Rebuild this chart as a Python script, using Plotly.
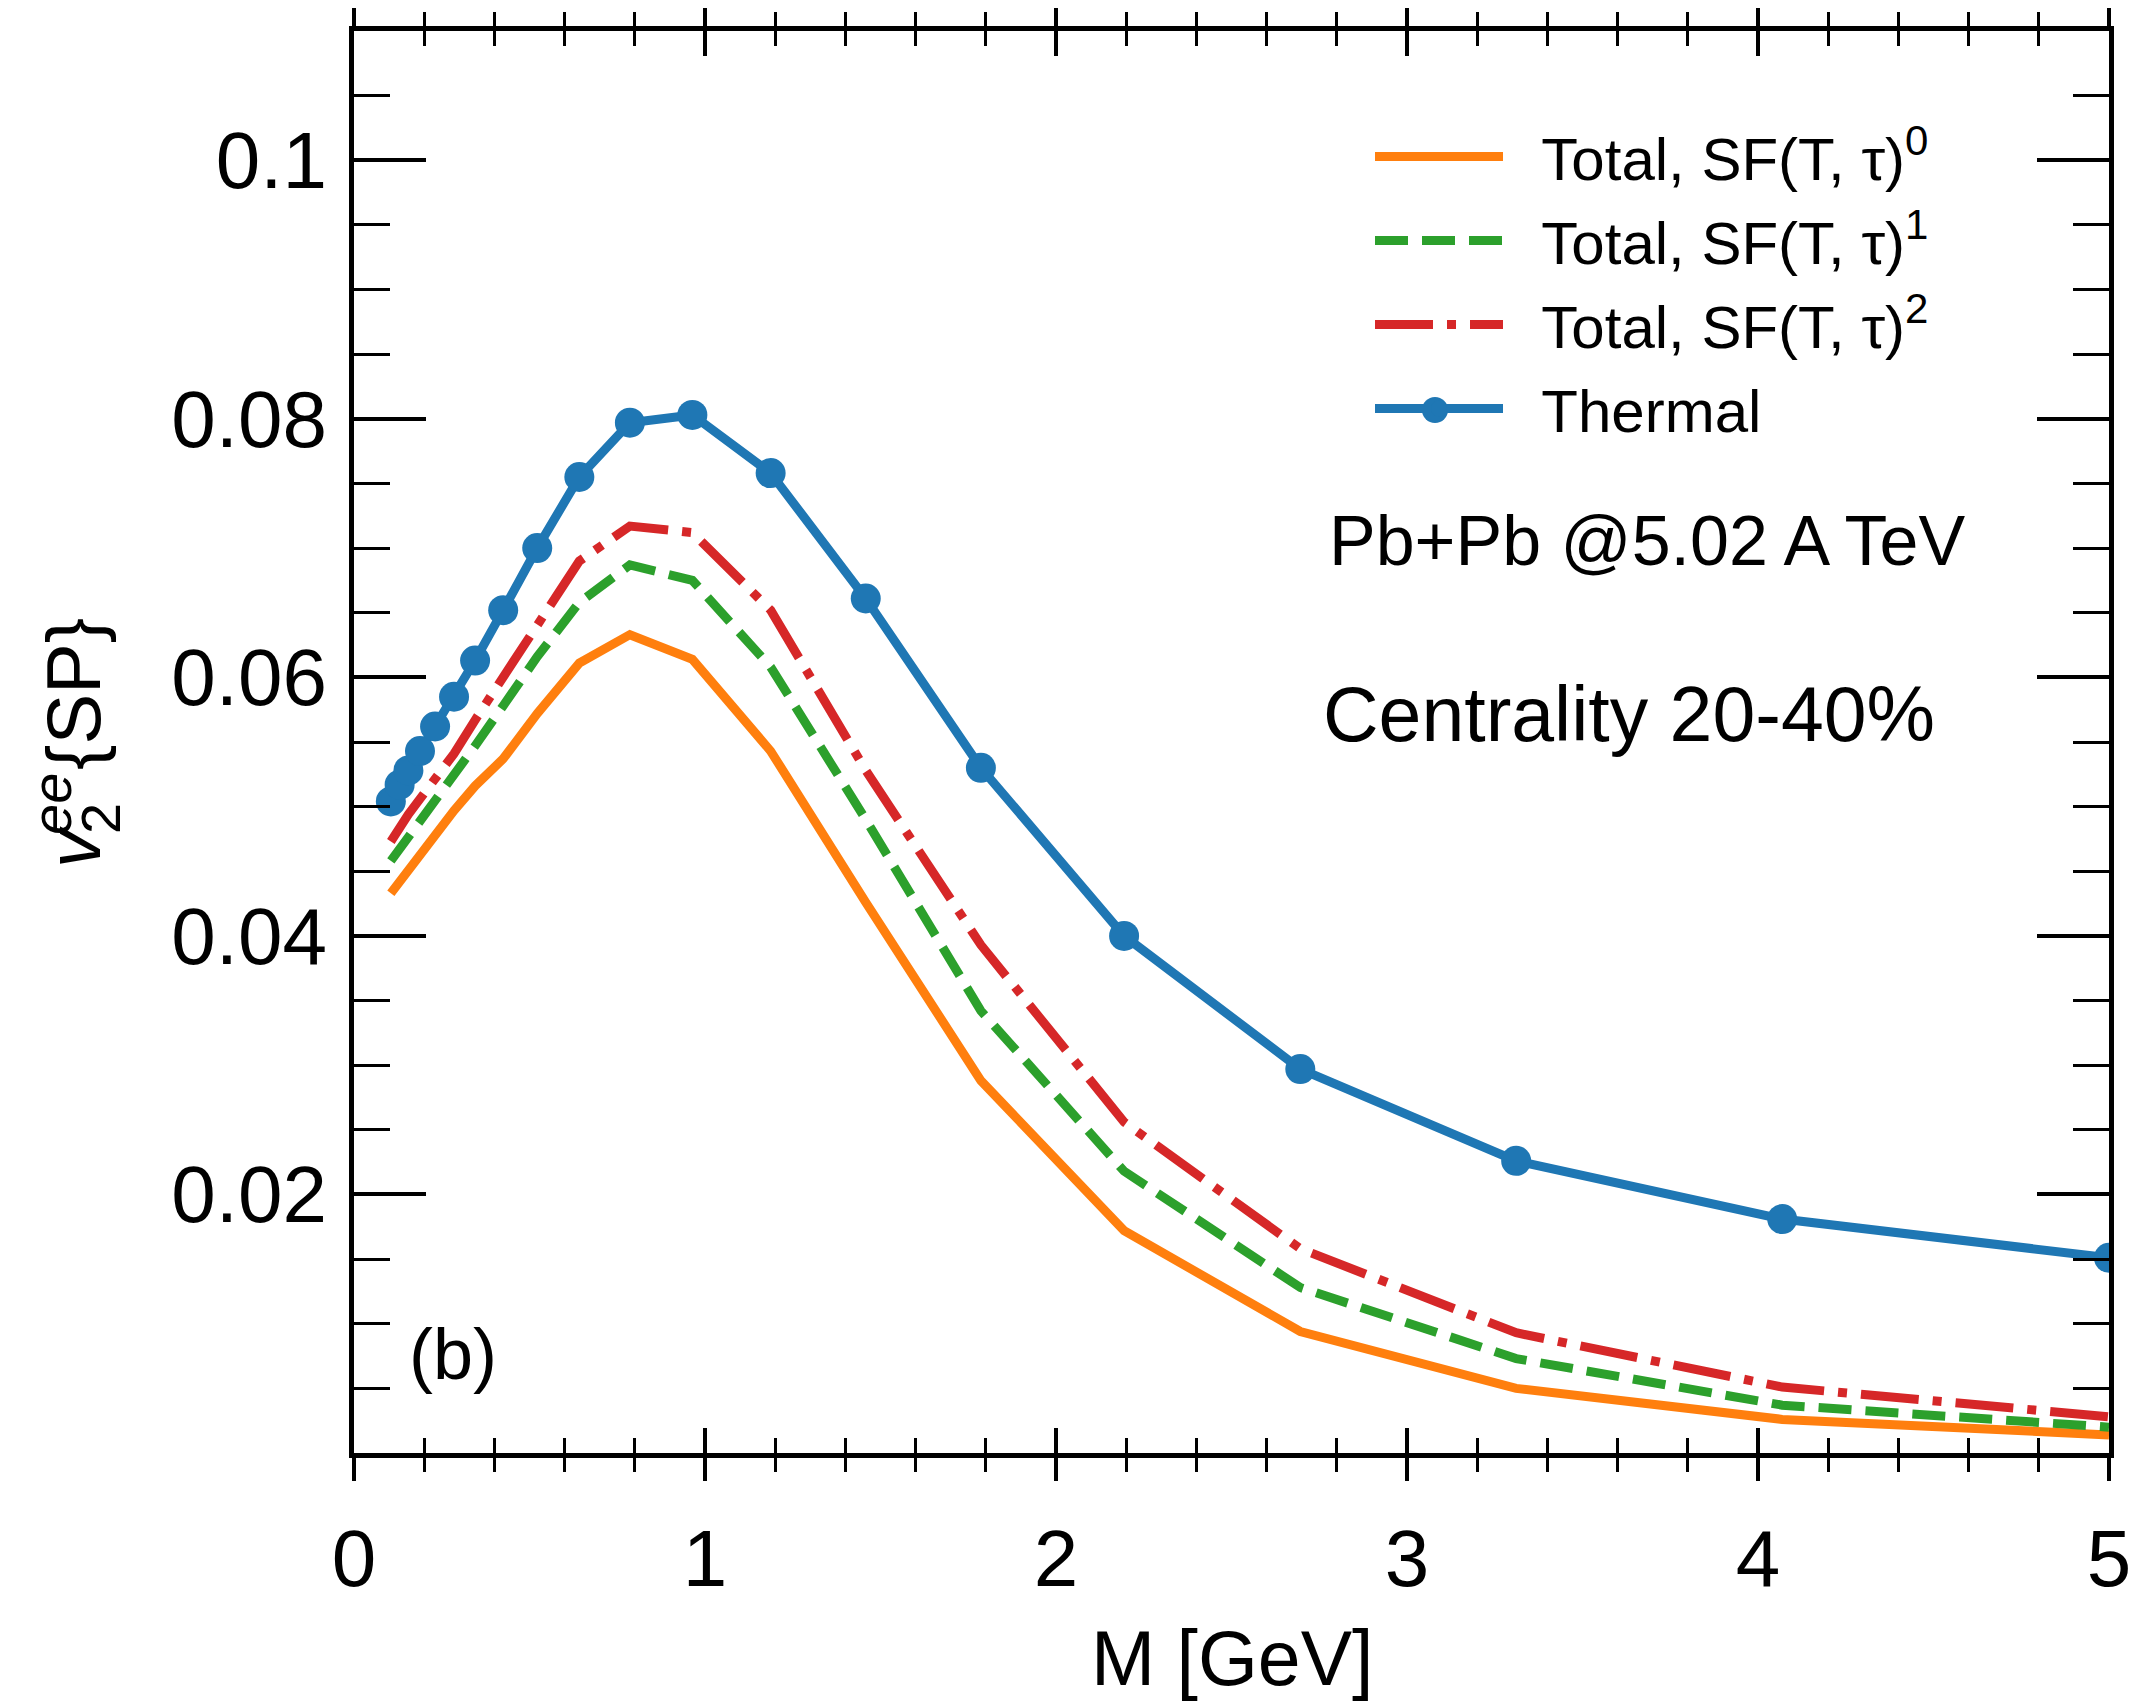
import plotly.graph_objects as go

# ---------------- data ----------------
M = [0.105, 0.130, 0.155, 0.188, 0.231, 0.285, 0.345, 0.425, 0.522, 0.642,
     0.786, 0.964, 1.187, 1.458, 1.786, 2.194, 2.696, 3.311, 4.069, 5.0]

total_sf0 = [0.0433, 0.0442, 0.0450, 0.0461, 0.0476, 0.0497, 0.0516, 0.0537, 0.0572, 0.0611,
             0.0633, 0.0614, 0.0543, 0.0426, 0.0288, 0.0172, 0.0094, 0.0050, 0.0026, 0.0014]
total_sf1 = [0.0458, 0.0467, 0.0476, 0.0488, 0.0504, 0.0525, 0.0547, 0.0578, 0.0616, 0.0658,
             0.0687, 0.0675, 0.0608, 0.0490, 0.0342, 0.0218, 0.0128, 0.0073, 0.0037, 0.0020]
total_sf2 = [0.0473, 0.0484, 0.0494, 0.0506, 0.0521, 0.0541, 0.0567, 0.0600, 0.0640, 0.0690,
             0.0717, 0.0712, 0.0652, 0.0528, 0.0393, 0.0256, 0.0158, 0.0093, 0.0051, 0.0028]
thermal = [0.0504, 0.0517, 0.0528, 0.0543, 0.0562, 0.0585, 0.0613, 0.0652, 0.0700, 0.0755,
           0.0797, 0.0803, 0.0758, 0.0661, 0.0530, 0.0400, 0.0297, 0.0226, 0.0181, 0.0151]

series_names = ["Total, SF(T, τ)<sup>0</sup>", "Total, SF(T, τ)<sup>1</sup>",
                "Total, SF(T, τ)<sup>2</sup>", "Thermal"]
x_ticks = [0, 1, 2, 3, 4, 5]
y_ticks = [0.02, 0.04, 0.06, 0.08, 0.1]
y_ticktext = ["0.02", "0.04", "0.06", "0.08", "0.1"]

# ---------------- figure geometry (screen px of the 2137x1701 page) ----------------
W, H = 2137, 1701
BODY = 8                      # default page margin around the plotly div
L, R, T, B = 354, 28, 31, 248  # plot area edges measured on screen
PW, PH = W - L - R, H - T - B
FONT = "Liberation Sans, Arial, Helvetica, sans-serif"


def px(xp):
    return (xp - L) / PW


def py(yp):
    return (H - B - yp) / PH


LW = 9
SP = "\u00a0\u00a0"
fig = go.Figure()
fig.add_trace(go.Scatter(x=M, y=total_sf0, mode="lines", name=SP + series_names[0],
                         line=dict(color="#ff7f0e", width=LW), legendgroup="a"))
fig.add_trace(go.Scatter(x=M, y=total_sf1, mode="lines", name=SP + series_names[1],
                         line=dict(color="#2ca02c", width=LW, dash="33px,14px"), legendgroup="b"))
fig.add_trace(go.Scatter(x=M, y=total_sf2, mode="lines", name=SP + series_names[2],
                         line=dict(color="#d62728", width=LW, dash="58px,14px,9px,14px"),
                         legendgroup="c"))
fig.add_trace(go.Scatter(x=M, y=thermal, mode="lines+markers", name=SP + series_names[3],
                         line=dict(color="#1f77b4", width=LW),
                         marker=dict(color="#1f77b4", size=30), legendgroup="d"))
# helper trace so the overlay axis (outer half of x ticks) is drawn
fig.add_trace(go.Scatter(x=M[:1], y=thermal[:1], xaxis="x2", mode="markers",
                         marker=dict(opacity=0, size=1), showlegend=False, hoverinfo="skip"))

axis_common = dict(showline=True, linecolor="black", linewidth=5, showgrid=False,
                   zeroline=False, mirror="ticks", tickcolor="black", automargin=False)

fig.update_layout(
    width=W - BODY, height=H - BODY,
    margin=dict(l=L - BODY, r=R, t=T - BODY, b=B, pad=0, autoexpand=False),
    paper_bgcolor="white", plot_bgcolor="white",
    font=dict(family=FONT, color="black"),
    showlegend=True,
    legend=dict(x=px(1370), y=py(111), xanchor="left", yanchor="top",
                font=dict(size=60, family=FONT), bgcolor="rgba(0,0,0,0)",
                itemwidth=128, tracegroupgap=3),
    xaxis=dict(range=[0, 5], tickvals=x_ticks, ticks="inside", ticklen=25, tickwidth=4,
               tickfont=dict(size=80), ticklabelstandoff=32,
               minor=dict(dtick=0.2, tick0=0, ticks="inside", ticklen=15, tickwidth=3,
                          tickcolor="black"),
               **axis_common),
    xaxis2=dict(range=[0, 5], overlaying="x", anchor="y", side="bottom",
                tickvals=x_ticks, ticks="outside", ticklen=23, tickwidth=4,
                showticklabels=False,
                minor=dict(dtick=0.2, tick0=0, ticks="outside", ticklen=14, tickwidth=3,
                           tickcolor="black"),
                **axis_common),
    yaxis=dict(range=[0, 0.11], tickvals=y_ticks, ticktext=y_ticktext, ticks="inside",
               ticklen=72, tickwidth=3.5, tickfont=dict(size=80), ticklabelstandoff=6,
               minor=dict(dtick=0.005, tick0=0, ticks="inside", ticklen=36, tickwidth=3,
                          tickcolor="black"),
               **axis_common),
)

# larger marker glyph for the "Thermal" legend sample (plotly caps legend marker size)
MR = 13
fig.add_shape(type="circle", xref="paper", yref="paper",
              x0=px(1435 - MR), x1=px(1435 + MR), y0=py(410 + MR), y1=py(410 - MR),
              fillcolor="#1f77b4", line=dict(width=0), layer="above")

ann = []
# x-axis title
ann.append(dict(text="M [GeV]", x=px(1232), y=py(1658), xref="paper", yref="paper",
                showarrow=False, xanchor="center", yanchor="middle",
                font=dict(size=77, family=FONT)))
# y-axis title pieces (stacked sub/superscript)
ann.append(dict(text="<i>v</i>", x=px(73), y=py(847), xref="paper", yref="paper",
                showarrow=False, textangle=-90, xanchor="center", yanchor="middle",
                font=dict(size=76, family=FONT)))
ann.append(dict(text="2", x=px(100), y=py(819), xref="paper", yref="paper",
                showarrow=False, textangle=-90, xanchor="center", yanchor="middle",
                font=dict(size=56, family=FONT)))
ann.append(dict(text="<i>ee</i>", x=px(51), y=py(804), xref="paper", yref="paper",
                showarrow=False, textangle=-90, xanchor="center", yanchor="middle",
                font=dict(size=56, family=FONT)))
ann.append(dict(text="{SP}", x=px(73), y=py(694), xref="paper", yref="paper",
                showarrow=False, textangle=-90, xanchor="center", yanchor="middle",
                font=dict(size=76, family=FONT)))
# in-plot labels
ann.append(dict(text="Pb+Pb @5.02 A TeV", x=px(1647), y=py(541), xref="paper", yref="paper",
                showarrow=False, xanchor="center", yanchor="middle",
                font=dict(size=70, family=FONT)))
ann.append(dict(text="Centrality 20-40%", x=px(1629), y=py(714), xref="paper", yref="paper",
                showarrow=False, xanchor="center", yanchor="middle",
                font=dict(size=77, family=FONT)))
ann.append(dict(text="(b)", x=px(453), y=py(1354), xref="paper", yref="paper",
                showarrow=False, xanchor="center", yanchor="middle",
                font=dict(size=72, family=FONT)))
fig.update_layout(annotations=ann)

fig.write_html("out.html")
